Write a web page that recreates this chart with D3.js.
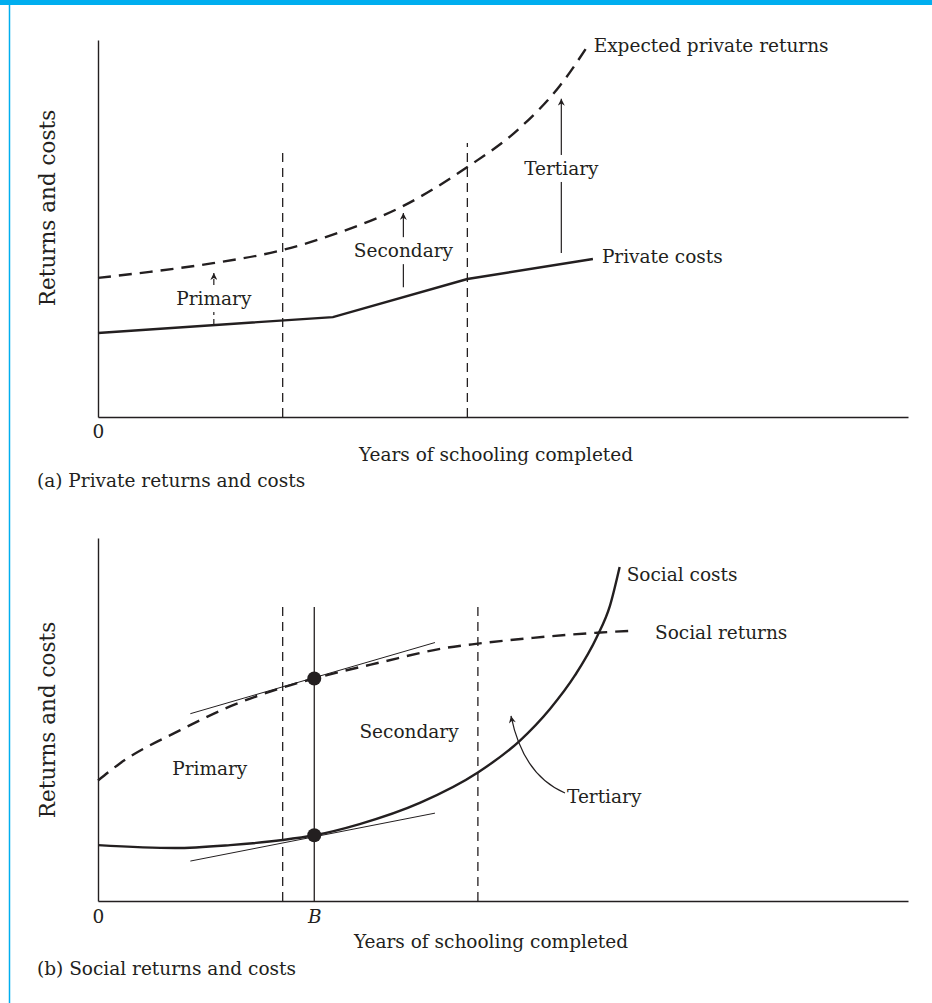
<!DOCTYPE html>
<html>
<head>
<meta charset="utf-8">
<script src="https://cdnjs.cloudflare.com/ajax/libs/d3/7.8.5/d3.min.js"></script>
<style>
  body { margin: 0; background: #fff; }
  text { font-family: "DejaVu Serif", serif; font-size: 18.5px; fill: #231f20; }
  text.ylab { font-size: 21.5px; }
</style>
</head>
<body>
<div id="chart"></div>
<script>
// ---- panel (a): private returns and costs ----
const privX = [0, 29, 45.6, 61.1];
const privCosts = [22.3, 26.5, 36.6, 41.9];
const expX = [0, 6.4, 14.2, 22.8, 29.6, 37.7, 45.6, 52.1, 57.0, 60.7];
const expReturns = [36.9, 38.5, 40.8, 44.3, 48.8, 56.0, 66.3, 76.7, 87.8, 99.2];
const levels = ["Primary", "Secondary", "Tertiary"];
const levelArrowX = [14.3, 37.7, 57.2];
const levelLabelA = [29.7, 42.4, 64.2];
const boundsA = [22.8, 45.6];
const boundsTopA = [70, 72.7];

// ---- panel (b): social returns and costs ----
const socRetX = [0, 2.7, 10.1, 16.3, 22.8, 26.7, 34.8, 43.1, 46.9, 53.7, 61.6, 66.3];
const socReturns = [33.2, 37.9, 47.0, 53.6, 58.8, 61.3, 65.7, 69.8, 70.9, 72.5, 73.9, 74.5];
const socCostX = [0, 9.5, 16.3, 22.8, 26.7, 32.3, 39.8, 46.9, 52.1, 55.8, 58.9, 61.6, 63.2, 64.4];
const socCosts = [15.4, 14.6, 15.4, 16.8, 18.1, 21.2, 27.1, 35.4, 44.2, 52.9, 62.2, 72.8, 81.3, 92.0];
const pointB = 26.7;
const boundsB = [22.8, 46.9];
const boundsTopB = 81;
const tangentX = [11.4, 41.6];
const retTangent = [51.6, 71.2];
const costTangent = [11.0, 24.2];
const labelPosB = { Primary: [13.8, 34.6], Secondary: [38.4, 44.8], Tertiary: [57.9, 27.0] };

const ink = "#231f20";
const W = 932, H = 1003;

const svg = d3.select("#chart").append("svg")
    .attr("width", W)
    .attr("height", H);

// blue frame
svg.append("rect").attr("width", W).attr("height", 5).attr("fill", "#00aeef");
svg.append("line").attr("x1", 9.5).attr("x2", 9.5).attr("y1", 0).attr("y2", H)
    .attr("stroke", "#00aeef").attr("stroke-width", 1.5);

svg.append("defs").append("marker")
    .attr("id", "head")
    .attr("viewBox", "0 0 10 10")
    .attr("refX", 10).attr("refY", 5)
    .attr("markerWidth", 11).attr("markerHeight", 7)
    .attr("markerUnits", "userSpaceOnUse")
    .attr("orient", "auto")
  .append("path")
    .attr("d", "M0,0 L10,5 L0,10 L3,5 Z")
    .attr("fill", ink);

const x = d3.scaleLinear().domain([0, 100]).range([98, 908]);
const ya = d3.scaleLinear().domain([0, 100]).range([417, 40]);
const yb = d3.scaleLinear().domain([0, 100]).range([901, 538]);

function axes(y, ticks, labels, pad) {
    const g = svg.append("g");
    g.append("g")
        .attr("transform", "translate(0," + y(0) + ")")
        .call(d3.axisBottom(x).tickValues(ticks).tickSize(0).tickSizeOuter(0).tickPadding(pad)
            .tickFormat((d, i) => labels[i]));
    g.append("g")
        .attr("transform", "translate(" + x(0) + ",0)")
        .call(d3.axisLeft(y).tickValues([]).tickSizeOuter(0));
    g.selectAll(".domain").attr("stroke", ink).attr("stroke-width", 1.4);
    g.selectAll("text").attr("font-size", null).attr("font-family", null);
    return g;
}

function curve(g, xs, ys, y, dashed, type) {
    const pts = xs.map((d, i) => [d, ys[i]]);
    g.append("path")
        .datum(pts)
        .attr("fill", "none")
        .attr("stroke", ink)
        .attr("stroke-width", 2.4)
        .attr("stroke-dasharray", dashed ? "13,8" : null)
        .attr("d", d3.line().x(d => x(d[0])).y(d => y(d[1])).curve(type));
}

function vline(g, xv, y, top, dashed) {
    g.append("line")
        .attr("x1", x(xv)).attr("x2", x(xv))
        .attr("y1", y(0)).attr("y2", y(top))
        .attr("stroke", ink).attr("stroke-width", 1.3)
        .attr("stroke-dasharray", dashed ? "9,6" : null);
}

// ================= panel (a) =================
const ga = axes(ya, [0], ["0"], 8);

boundsA.forEach((b, i) => vline(ga, b, ya, boundsTopA[i], true));

curve(ga, privX, privCosts, ya, false, d3.curveLinear);
curve(ga, expX, expReturns, ya, true, d3.curveMonotoneX);

const costAt = d3.scaleLinear().domain(privX).range(privCosts);
const retAt = d3.scaleLinear().domain(expX).range(expReturns);
const gapLow = [0, 10, 11], gapTop = [10, 7, 15];

levels.forEach((name, i) => {
    const xv = levelArrowX[i];
    ga.append("line")
        .attr("x1", x(xv)).attr("x2", x(xv))
        .attr("y1", ya(costAt(xv)) - gapLow[i])
        .attr("y2", ya(retAt(xv)) + gapTop[i])
        .attr("stroke", ink).attr("stroke-width", 1.2)
        .attr("stroke-dasharray", i === 0 ? "6,4" : null)
        .attr("marker-end", "url(#head)");
    const t = ga.append("text")
        .attr("x", x(xv)).attr("y", ya(levelLabelA[i]))
        .attr("text-anchor", "middle")
        .text(name);
    const bb = t.node().getBBox();
    // white box so the arrow stem breaks around the label
    ga.insert("rect", () => t.node())
        .attr("x", bb.x - 2).attr("y", bb.y - 3)
        .attr("width", bb.width + 4).attr("height", bb.height + 6)
        .attr("fill", "#fff");
});

ga.append("text")
    .attr("x", x(expX[expX.length - 1]) + 4)
    .attr("y", ya(expReturns[expReturns.length - 1]) + 9)
    .text("Expected private returns");
ga.append("text")
    .attr("x", x(privX[privX.length - 1]) + 9)
    .attr("y", ya(privCosts[privCosts.length - 1]) + 4)
    .text("Private costs");

ga.append("text").attr("x", 496).attr("y", 461).attr("text-anchor", "middle")
    .text("Years of schooling completed");
ga.append("text").attr("class", "ylab")
    .attr("transform", "translate(55,208) rotate(-90)").attr("text-anchor", "middle")
    .text("Returns and costs");
ga.append("text").attr("x", 37).attr("y", 487).text("(a) Private returns and costs");

// ================= panel (b) =================
const gb = axes(yb, [0, pointB], ["0", "B"], 9);
gb.selectAll(".tick text").filter(d => d === pointB).style("font-style", "italic");

boundsB.forEach(b => vline(gb, b, yb, boundsTopB, true));
vline(gb, pointB, yb, boundsTopB, false);

// tangents at B
[retTangent, costTangent].forEach(t => {
    gb.append("line")
        .attr("x1", x(tangentX[0])).attr("y1", yb(t[0]))
        .attr("x2", x(tangentX[1])).attr("y2", yb(t[1]))
        .attr("stroke", ink).attr("stroke-width", 1);
});

curve(gb, socRetX, socReturns, yb, true, d3.curveMonotoneX);
curve(gb, socCostX, socCosts, yb, false, d3.curveMonotoneX);

const retB = d3.scaleLinear().domain(socRetX).range(socReturns)(pointB);
const costB = d3.scaleLinear().domain(socCostX).range(socCosts)(pointB);
gb.selectAll("circle.dot")
    .data([retB, costB])
    .enter().append("circle")
    .attr("class", "dot")
    .attr("cx", x(pointB))
    .attr("cy", d => yb(d))
    .attr("r", 7)
    .attr("fill", ink);

gb.append("text")
    .attr("x", x(socCostX[socCostX.length - 1]) + 7)
    .attr("y", yb(socCosts[socCosts.length - 1]) + 14)
    .text("Social costs");
gb.append("text")
    .attr("x", x(socRetX[socRetX.length - 1]) + 20)
    .attr("y", yb(socReturns[socReturns.length - 1]) + 8)
    .text("Social returns");

levels.forEach(name => {
    const p = labelPosB[name];
    gb.append("text")
        .attr("x", x(p[0])).attr("y", yb(p[1]))
        .attr("text-anchor", name === "Tertiary" ? "start" : "middle")
        .text(name);
});

// curved pointer from "Tertiary" into the gap between the curves
const tx = x(labelPosB.Tertiary[0]), ty = yb(labelPosB.Tertiary[1]);
gb.append("path")
    .attr("d", "M" + (tx - 2) + "," + (ty - 10) + " Q" + (tx - 44) + "," + (ty - 28) + " " + (tx - 56) + "," + (ty - 87))
    .attr("fill", "none")
    .attr("stroke", ink).attr("stroke-width", 1.2)
    .attr("marker-end", "url(#head)");

gb.append("text").attr("x", 491).attr("y", 948).attr("text-anchor", "middle")
    .text("Years of schooling completed");
gb.append("text").attr("class", "ylab")
    .attr("transform", "translate(55,720) rotate(-90)").attr("text-anchor", "middle")
    .text("Returns and costs");
gb.append("text").attr("x", 37).attr("y", 975).text("(b) Social returns and costs");
</script>
</body>
</html>
